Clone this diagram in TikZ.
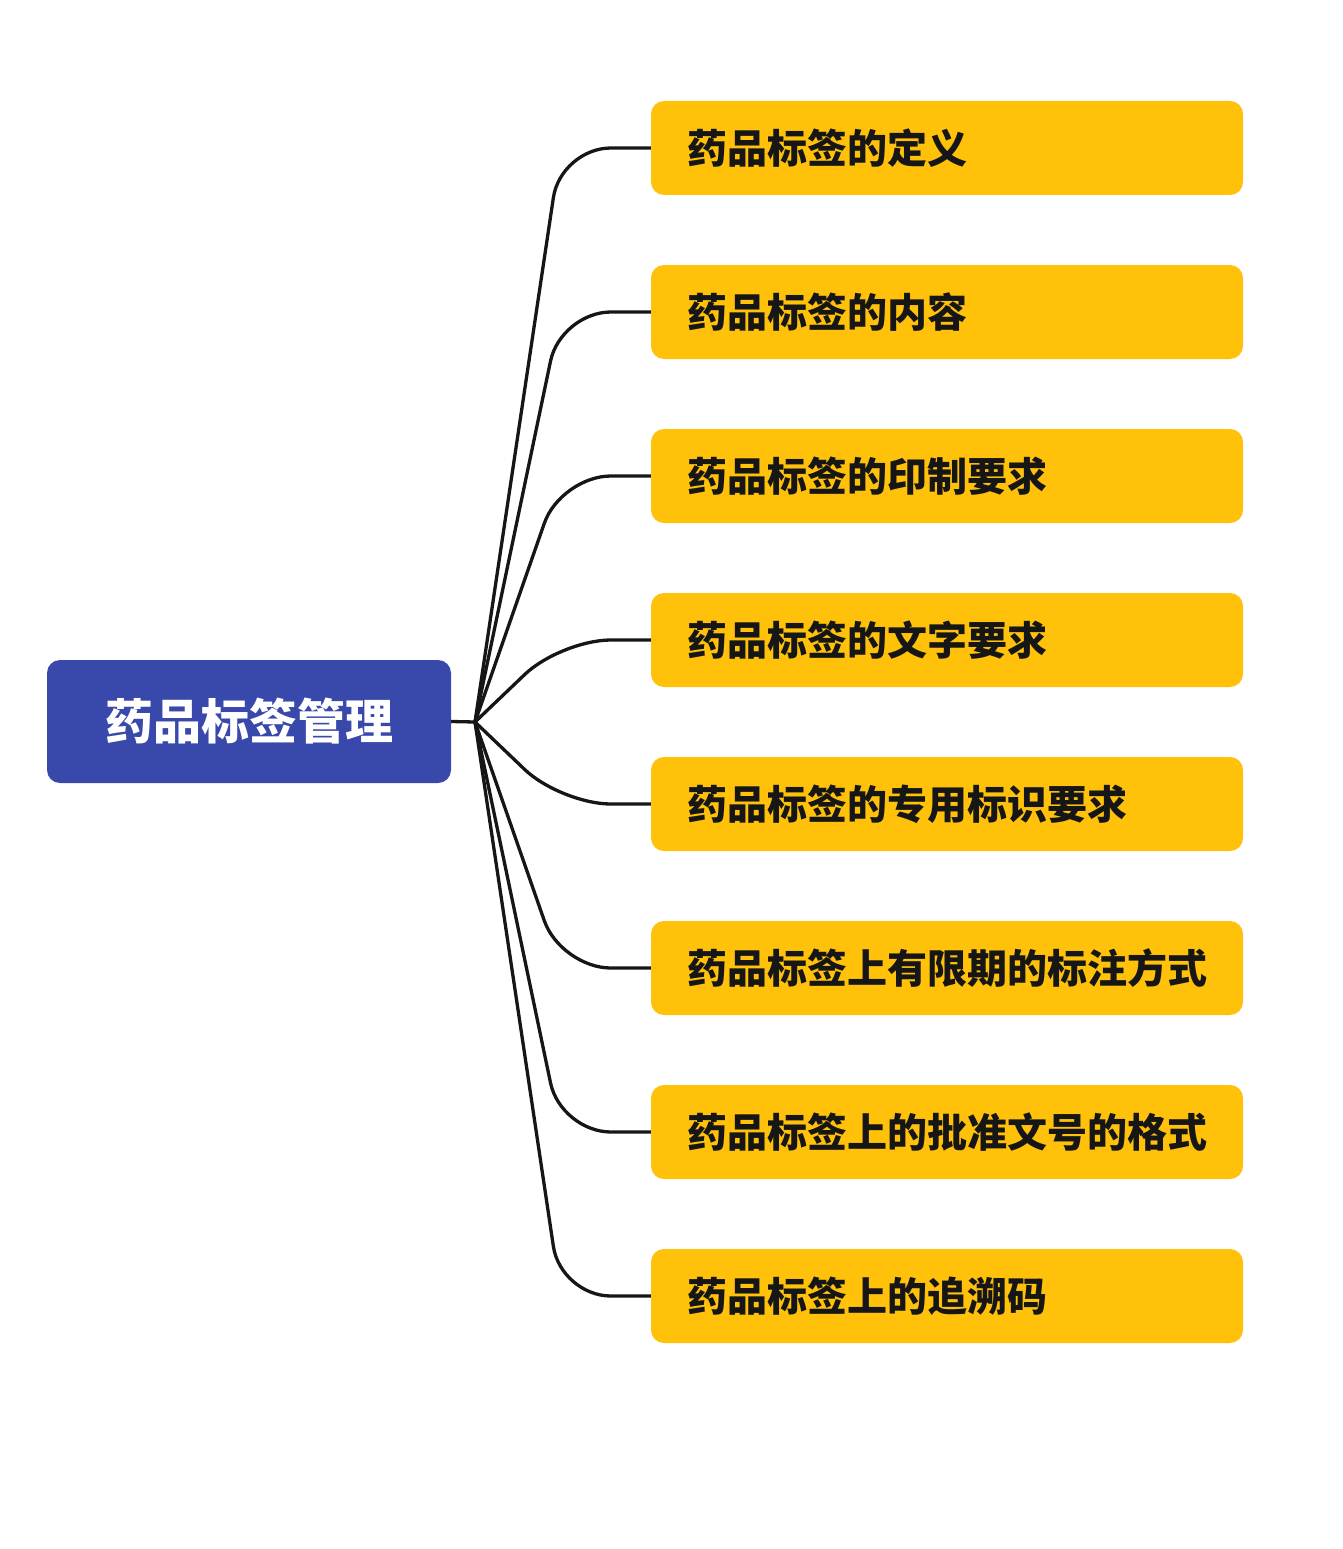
\documentclass[tikz,border=0pt]{standalone}
\usepackage{fontspec}
\usepackage{xcolor}
\usepackage{tikz}
\usetikzlibrary{positioning}
\newfontfamily\cjk{Noto Sans CJK SC}
\definecolor{mmIndigo}{HTML}{3949AB}
\definecolor{mmAmber}{HTML}{FFC10A}
\definecolor{mmInk}{HTML}{161616}
\tikzset{
  rootbox/.style={
    rectangle, rounded corners=13pt,
    fill=mmIndigo, text=white,
    minimum width=404pt, minimum height=123pt,
    inner sep=0pt,
    font=\cjk\bfseries\fontsize{48}{56}\selectfont
  },
  topicbox/.style={
    rectangle, rounded corners=13pt,
    fill=mmAmber, text=mmInk,
    minimum width=592pt, minimum height=94pt,
    text width=520pt, inner xsep=36pt, inner ysep=0pt,
    align=left,
    font=\cjk\bfseries\fontsize{40}{48}\selectfont
  },
  branch/.style={
    draw=mmInk, line width=3.3pt, rounded corners=50pt
  }
}

\begin{document}
\begin{tikzpicture}[x=1pt, y=-1pt]
      \useasboundingbox (0,0) rectangle (1343,1549);
      \node[rootbox] (root) at (249, 721.5) {\raisebox{-2pt}{药品标签管理}};
      \coordinate (hub) at (475, 722);
      \node[topicbox] (t1) at (947, 148) {药品标签的定义};
      \node[topicbox] (t2) at (947, 312) {药品标签的内容};
      \node[topicbox] (t3) at (947, 476) {药品标签的印制要求};
      \node[topicbox] (t4) at (947, 640) {药品标签的文字要求};
      \node[topicbox] (t5) at (947, 804) {药品标签的专用标识要求};
      \node[topicbox] (t6) at (947, 968) {药品标签上有限期的标注方式};
      \node[topicbox] (t7) at (947, 1132) {药品标签上的批准文号的格式};
      \node[topicbox] (t8) at (947, 1296) {药品标签上的追溯码};
      \draw[branch] (root.east) -- (hub);
      \foreach \i in {1,...,8}
        \draw[branch] (hub) -- ([xshift=-90pt]t\i.west) -- (t\i.west);
    \end{tikzpicture}
\end{document}
